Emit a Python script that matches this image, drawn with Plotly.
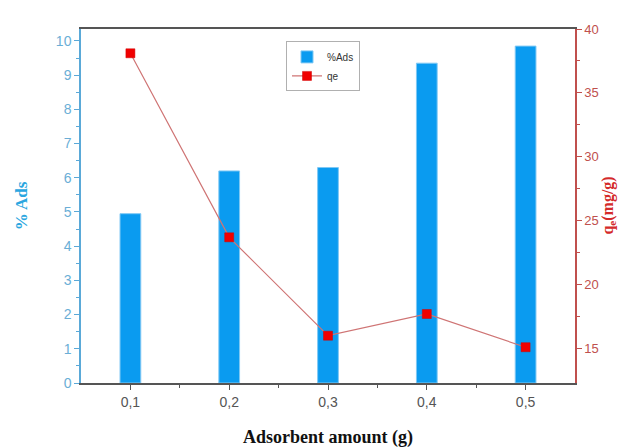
import plotly.graph_objects as go

x_vals = [0.1, 0.2, 0.3, 0.4, 0.5]
x_labels = ["0,1", "0,2", "0,3", "0,4", "0,5"]
ads_pct = [4.95, 6.2, 6.3, 9.35, 9.85]
qe_vals = [38.1, 23.7, 16.0, 17.7, 15.1]

blue_axis = "#5aa9d8"
red_axis = "#c0504d"

fig = go.Figure()
fig.add_trace(go.Bar(
    x=x_vals, y=ads_pct, name="%Ads", width=0.021,
    marker=dict(color="#0a9bf0", line=dict(color="#7fc8f4", width=1)),
    yaxis="y",
))
fig.add_trace(go.Scatter(
    x=x_vals, y=qe_vals, name="qe", mode="lines+markers",
    line=dict(color="#cf7474", width=1.2),
    marker=dict(symbol="square", size=9, color="#f00000", line=dict(color="#d00000", width=0.5)),
    yaxis="y2",
))

fig.update_layout(
    width=629, height=448,
    margin=dict(l=72, r=62, t=21, b=70),
    paper_bgcolor="white", plot_bgcolor="white",
    font=dict(family="Liberation Sans, Arial, sans-serif", size=13, color="#555555"),
    showlegend=True,
    legend=dict(x=0.415, y=0.965, xanchor="left", yanchor="top",
                bgcolor="white", bordercolor="#b0b0b0", borderwidth=1,
                font=dict(size=10, color="#333333"), tracegroupgap=0,
                itemwidth=30),
    xaxis=dict(
        range=[0.05, 0.55], tickvals=x_vals, ticktext=x_labels,
        showgrid=False, zeroline=False,
        showline=True, linecolor="#555555", linewidth=1.5, mirror=True,
        ticks="outside", ticklen=5, tickcolor="#555555",
        minor=dict(tickvals=[0.15, 0.25, 0.35, 0.45], ticks="outside", ticklen=3, tickcolor="#555555"),
        tickfont=dict(size=14, color="#555555"),
        title=dict(text="<b>Adsorbent amount (g)</b>",
                   font=dict(family="Liberation Serif, Times New Roman, serif", size=18, color="#111111"),
                   standoff=22),
    ),
    yaxis=dict(
        range=[0, 10.35], dtick=1, showgrid=False, zeroline=False,
        showline=True, linecolor=blue_axis, linewidth=1.5,
        ticks="outside", ticklen=5, tickcolor=blue_axis,
        minor=dict(dtick=0.5, ticks="outside", ticklen=3, tickcolor=blue_axis),
        tickfont=dict(size=14, color="#6aaed6"),
        title=dict(text="<b>% Ads</b>",
                   font=dict(family="Liberation Serif, Times New Roman, serif", size=17, color="#2aa6e0"),
                   standoff=24),
    ),
    yaxis2=dict(
        range=[12.3, 40], tickvals=[15, 20, 25, 30, 35, 40], overlaying="y", side="right",
        showgrid=False, zeroline=False,
        showline=True, linecolor=red_axis, linewidth=1.5,
        ticks="outside", ticklen=5, tickcolor=red_axis,
        minor=dict(tickvals=[17.5, 22.5, 27.5, 32.5, 37.5], ticks="outside", ticklen=3, tickcolor=red_axis),
        tickfont=dict(size=13, color="#c0504d"),
    ),
    annotations=[dict(
        text="<b>q<sub>e</sub>(mg/g)</b>", textangle=-90,
        xref="paper", yref="paper", x=1.066, y=0.5, xanchor="center", yanchor="middle",
        showarrow=False,
        font=dict(family="Liberation Serif, Times New Roman, serif", size=16, color="#d42a2a"),
    )],
)

fig.write_html("out.html")
